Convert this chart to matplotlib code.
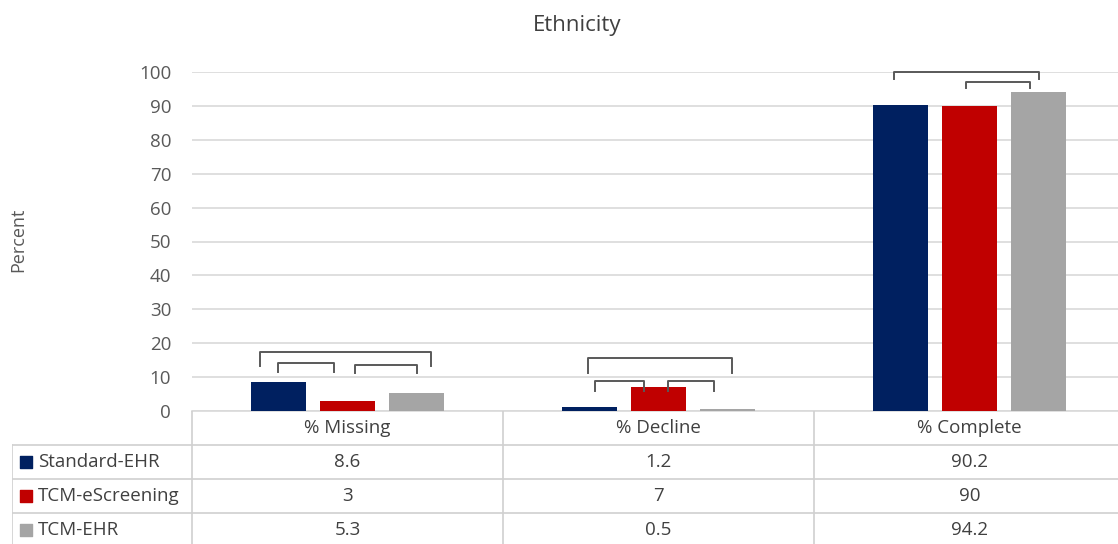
import matplotlib.pyplot as plt
import numpy as np

plt.rcParams['font.family'] = ['Open Sans', 'DejaVu Sans']

categories = ['% Missing', '% Decline', '% Complete']
series = ['Standard-EHR', 'TCM-eScreening', 'TCM-EHR']
standard_ehr = [8.6, 1.2, 90.2]
tcm_escreening = [3, 7, 90]
tcm_ehr = [5.3, 0.5, 94.2]
values = [standard_ehr, tcm_escreening, tcm_ehr]
colors = ['#002060', '#C00000', '#A5A5A5']

# significance brackets per category: (x0, x1, y_top, y_leg), x relative to category centre
brackets = [
    [(-0.280, 0.270, 17.4, 13.3), (-0.225, -0.042, 14.2, 11.5), (0.023, 0.225, 13.6, 11.2)],
    [(-0.228, 0.235, 15.6, 11.2), (-0.203, -0.048, 8.85, 5.9), (0.029, 0.180, 8.85, 5.9)],
    [(-0.244, 0.225, 100.0, 97.9), (-0.010, 0.193, 97.1, 95.3)],
]

W, H = 1118, 544
fig = plt.figure(figsize=(W / 100, H / 100), dpi=100)

# plot area in pixels: x 192..1125, y 72 (=100) .. 411 (=0)
ax = fig.add_axes([192 / W, (H - 411) / H, 933 / W, 339 / H])
x = np.arange(len(categories))
step, width = 0.222, 0.174
for i, (name, vals) in enumerate(zip(series, values)):
    ax.bar(x + (i - 1) * step, vals, width=width, color=colors[i], zorder=3)

for c, group in enumerate(brackets):
    for x0, x1, yt, yl in group:
        ax.plot([c + x0, c + x0, c + x1, c + x1], [yl, yt, yt, yl],
                color='#595959', lw=1.4, zorder=4, clip_on=False,
                solid_joinstyle='round')

ax.set_xlim(-0.5, 2.5)
ax.set_ylim(0, 100)
ax.set_yticks(range(0, 101, 10))
ax.set_xticks([])
ax.yaxis.grid(True, color='#D9D9D9', lw=1.2, zorder=0)
for s in ['top', 'right', 'left']:
    ax.spines[s].set_visible(False)
ax.spines['bottom'].set_color('#D9D9D9')
ax.spines['bottom'].set_linewidth(1.2)
ax.tick_params(axis='y', length=0, pad=15, labelsize=13.5, labelcolor='#595959')

fig.text(577 / W, 1 - 25 / H, 'Ethnicity', ha='center', va='center',
         fontsize=16, color='#404040')
fig.text(18 / W, 1 - 240 / H, 'Percent', ha='center', va='center',
         rotation=90, fontsize=13, color='#595959')

# data table under the bars
left_col = (192 - 12) / 311
tx = fig.add_axes([12 / W, -3 / H, (1125 - 12) / W, 136 / H])
tx.set_xlim(-0.5 - left_col, 2.5)
tx.set_ylim(4, 0)
tx.axis('off')
lc = '#D0D0D0'
lw = 1.2
for r in range(1, 5):
    tx.plot([-0.5 - left_col, 2.5], [r, r], color=lc, lw=lw)
tx.plot([-0.5 - left_col] * 2, [1, 4], color=lc, lw=lw)
for xv in [-0.5, 0.5, 1.5, 2.5]:
    tx.plot([xv, xv], [0, 4], color=lc, lw=lw)

fs = 13.5
for c, cat in enumerate(categories):
    tx.text(c, 0.5, cat, ha='center', va='center', fontsize=fs, color='#404040')
for i, (name, vals) in enumerate(zip(series, values)):
    y = i + 1.5
    tx.scatter([-0.5 - left_col + 0.045], [y], marker='s', s=80, color=colors[i])
    tx.text(-0.5 - left_col + 0.083, y, name, ha='left', va='center',
            fontsize=fs, color='#404040')
    for c, v in enumerate(vals):
        tx.text(c, y, f'{v:g}', ha='center', va='center', fontsize=fs, color='#404040')

fig.savefig('out.png', dpi=100)
